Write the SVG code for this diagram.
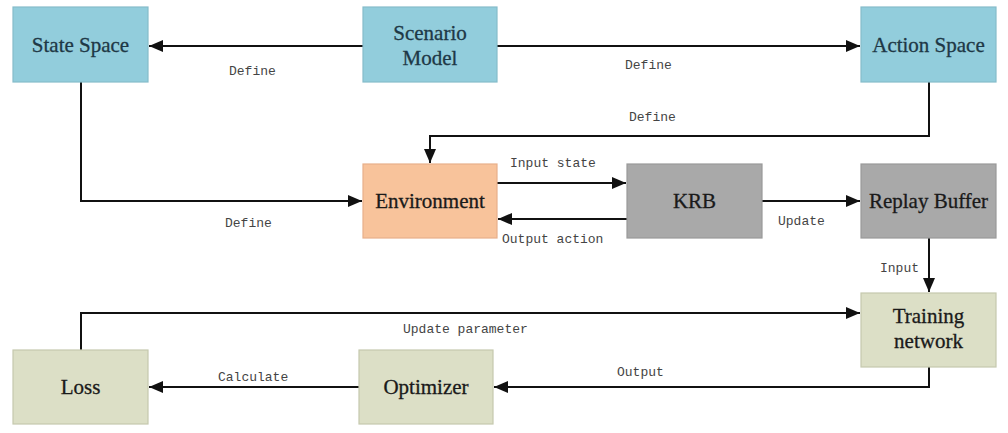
<svg xmlns="http://www.w3.org/2000/svg" width="1008" height="433" viewBox="0 0 1008 433">
<style>
.box{stroke-width:1.2}
.blue{fill:#92CDDC;stroke:#86BccA}
.orange{fill:#F8C39B;stroke:#E8B08A}
.gray{fill:#A9A9A9;stroke:#9A9A9A}
.green{fill:#DCDFC6;stroke:#C5C9AE}
.t{font-family:"Liberation Serif","Times New Roman",serif;font-size:21px;text-anchor:middle;fill:#1a1a1a;stroke:#1a1a1a;stroke-width:0.3}
.tb{fill:#1E3846;stroke:#1E3846}
.lbl{font-family:"Liberation Mono","Courier New",monospace;font-size:13px;fill:#444}
.c{fill:none;stroke:#111;stroke-width:2}
</style>
<defs>
<marker id="ah" viewBox="0 0 14 12" refX="14" refY="6" markerWidth="14" markerHeight="12" markerUnits="userSpaceOnUse" orient="auto">
<path d="M0,0 L14,6 L0,12 Z" fill="#111"/>
</marker>
</defs>
<rect width="1008" height="433" fill="#fff"/>
<g id="connectors">
<path class="c" d="M363,46 H149" marker-end="url(#ah)"/>
<path class="c" d="M497,46 H860" marker-end="url(#ah)"/>
<path class="c" d="M929,82 V136 H430 V163" marker-end="url(#ah)"/>
<path class="c" d="M81,82 V201 H362" marker-end="url(#ah)"/>
<path class="c" d="M497,183 H626" marker-end="url(#ah)"/>
<path class="c" d="M627,219 H498" marker-end="url(#ah)"/>
<path class="c" d="M762,201 H860" marker-end="url(#ah)"/>
<path class="c" d="M929,238 V292" marker-end="url(#ah)"/>
<path class="c" d="M81,350 V313 H860" marker-end="url(#ah)"/>
<path class="c" d="M929,367 V387 H494" marker-end="url(#ah)"/>
<path class="c" d="M359,387 H149" marker-end="url(#ah)"/>
<text class="lbl" x="229" y="75">Define</text>
<text class="lbl" x="625" y="69">Define</text>
<text class="lbl" x="629" y="121">Define</text>
<text class="lbl" x="225" y="227">Define</text>
<text class="lbl" x="510" y="167">Input state</text>
<text class="lbl" x="502" y="243">Output action</text>
<text class="lbl" x="778" y="225">Update</text>
<text class="lbl" x="880" y="272">Input</text>
<text class="lbl" x="403" y="333">Update parameter</text>
<text class="lbl" x="617" y="376">Output</text>
<text class="lbl" x="218" y="381">Calculate</text>
</g>
<g id="state-space"><rect class="box blue" x="13" y="7" width="135" height="75"/><text class="t tb" x="80.5" y="52">State Space</text></g>
<g id="scenario-model"><rect class="box blue" x="363" y="7" width="134" height="75"/><text class="t tb" x="430" y="40">Scenario</text><text class="t tb" x="430" y="65">Model</text></g>
<g id="action-space"><rect class="box blue" x="861" y="7" width="135" height="75"/><text class="t tb" x="928.5" y="52">Action Space</text></g>
<g id="environment"><rect class="box orange" x="363" y="164" width="134" height="74"/><text class="t" x="430" y="208">Environment</text></g>
<g id="krb"><rect class="box gray" x="627" y="164" width="135" height="74"/><text class="t" x="694.5" y="208">KRB</text></g>
<g id="replay-buffer"><rect class="box gray" x="861" y="164" width="135" height="74"/><text class="t" x="928.5" y="208">Replay Buffer</text></g>
<g id="training-network"><rect class="box green" x="861" y="293" width="135" height="74"/><text class="t" x="928.5" y="323">Training</text><text class="t" x="928.5" y="348">network</text></g>
<g id="loss"><rect class="box green" x="13" y="350" width="135" height="74"/><text class="t" x="80.5" y="394">Loss</text></g>
<g id="optimizer"><rect class="box green" x="359" y="350" width="134" height="74"/><text class="t" x="426" y="394">Optimizer</text></g>
</svg>
